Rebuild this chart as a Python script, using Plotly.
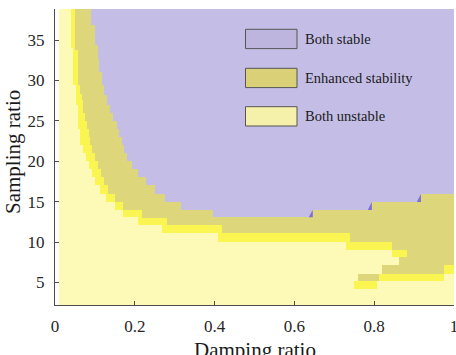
import numpy as np
import plotly.graph_objects as go

# ---------------- data ----------------
x_data_range = [0.01, 1.0]      # damping ratio covered by the map
y_data_range = [2.2, 38.85]     # sampling ratio covered by the map

# lower edge of "Both stable" (stable above), piecewise constant from each x start
stable_x = [0.090, 0.100, 0.107, 0.111, 0.117, 0.124, 0.130, 0.138, 0.146, 0.155,
            0.160, 0.167, 0.172, 0.180, 0.192, 0.209, 0.228, 0.250, 0.276, 0.317,
            0.397, 0.646, 0.794, 0.917]
stable_y = [36.9, 34.4, 32.7, 31.1, 29.4, 28.2, 27.0, 26.0, 25.0, 24.0,
            23.0, 22.0, 21.0, 20.0, 19.0, 18.0, 17.0, 16.0, 15.0, 14.0,
            13.05, 13.95, 14.94, 15.93]

# lower edge of "Enhanced stability"
enh_x = [0.050, 0.058, 0.063, 0.067, 0.069, 0.075, 0.080, 0.084, 0.088, 0.093,
         0.100, 0.107, 0.114, 0.122, 0.132, 0.150, 0.171, 0.217, 0.280, 0.418,
         0.739, 0.845, 0.882, 0.974]
enh_y = [33.8, 29.5, 28.3, 27.6, 26.0, 25.0, 24.0, 23.0, 22.0, 21.0,
         20.0, 19.0, 18.0, 17.0, 16.0, 15.0, 14.0, 12.95, 12.1, 11.07,
         10.03, 9.0, 6.1, 7.14]

# lower edge of the bright transition band (between enhanced and unstable)
band_x = [0.040, 0.046, 0.052, 0.058, 0.063, 0.070, 0.077, 0.084, 0.092, 0.100,
          0.113, 0.128, 0.150, 0.171, 0.209, 0.267, 0.409, 0.729, 0.845, 0.882,
          0.974]
band_y = [34.0, 29.5, 27.0, 24.0, 22.0, 21.0, 20.0, 19.0, 18.0, 17.0,
          16.0, 15.0, 14.0, 13.05, 12.1, 11.07, 10.03, 9.0, 8.1, 5.2,
          6.1]

# isolated patches in the lower right: class, x0, x1, y0, y1
# classes: 0 both unstable, 1 band, 2 enhanced, 3 both stable
patch_cls = [2, 2, 1, 2, 1]
patch_x0 = [0.820, 0.862, 0.811, 0.760, 0.749]
patch_x1 = [0.882, 0.882, 0.882, 0.811, 0.806]
patch_y0 = [6.1, 7.14, 5.2, 5.2, 4.13]
patch_y1 = [7.14, 8.1, 6.1, 6.1, 5.2]

legend_labels = ["Both stable", "Enhanced stability", "Both unstable"]
x_ticks = [0, 0.2, 0.4, 0.6, 0.8, 1]
x_ticktext = ["0", "0.2", "0.4", "0.6", "0.8", "1"]
y_ticks = [5, 10, 15, 20, 25, 30, 35]

# ---------------- styling ----------------
C_PALE = "#fdf9b6"
C_BAND = "#fbf552"
C_ENH = "#ddd67b"
C_STAB = "#c4bee6"
C_TRI = "#7c6fd0"
FONT = "Liberation Serif"
W, H = 456, 355
ML, MR, MT, MB = 55, 2, 9, 50


def step(xs, ys, x, default=1e9):
    v = default
    for xi, yi in zip(xs, ys):
        if x >= xi:
            v = yi
    return v


# cell edges
xe = sorted(set([x_data_range[0], x_data_range[1]] + stable_x + enh_x + band_x
                + patch_x0 + patch_x1))
ye = sorted(set([y_data_range[0], y_data_range[1]] + stable_y + enh_y + band_y
                + patch_y0 + patch_y1))
xe = [v for v in xe if x_data_range[0] <= v <= x_data_range[1]]
ye = [v for v in ye if y_data_range[0] <= v <= y_data_range[1]]

z = []
for j in range(len(ye) - 1):
    yc = 0.5 * (ye[j] + ye[j + 1])
    row = []
    for i in range(len(xe) - 1):
        xc = 0.5 * (xe[i] + xe[i + 1])
        if yc >= step(stable_x, stable_y, xc):
            c = 3
        elif yc >= step(enh_x, enh_y, xc):
            c = 2
        elif yc >= step(band_x, band_y, xc):
            c = 1
        else:
            c = 0
        for k in range(len(patch_cls)):
            if patch_x0[k] <= xc < patch_x1[k] and patch_y0[k] <= yc < patch_y1[k]:
                c = patch_cls[k]
        row.append(c)
    z.append(row)

cs = [[0, C_PALE], [1 / 6, C_PALE], [1 / 6, C_BAND], [0.5, C_BAND],
      [0.5, C_ENH], [5 / 6, C_ENH], [5 / 6, C_STAB], [1, C_STAB]]

fig = go.Figure()
fig.add_trace(go.Heatmap(x=xe, y=ye, z=z, zmin=0, zmax=3, colorscale=cs,
                         showscale=False, hoverinfo="skip", zsmooth=False))

# small contour artefacts at the upward steps of the stable edge
for i in range(1, len(stable_x)):
    if stable_y[i] > stable_y[i - 1]:
        xs_, ylo, yhi = stable_x[i], stable_y[i - 1], stable_y[i]
        fig.add_trace(go.Scatter(x=[xs_ - 0.01, xs_, xs_, xs_ - 0.01],
                                 y=[ylo, ylo, yhi, ylo], fill="toself",
                                 fillcolor=C_TRI, line=dict(width=0),
                                 mode="lines", hoverinfo="skip", showlegend=False))

pw, ph = W - ML - MR, H - MT - MB


def px2x(px):
    return (px - ML) / pw


def py2y(py):
    return (H - MB - py) / ph


shapes = []
annotations = []
leg_fill = ["#bdb5de", "#dad077", "#f5f1aa"]
box_top = [29.3, 68.3, 106.7]
for k, lab in enumerate(legend_labels):
    t = box_top[k]
    shapes.append(dict(type="rect", xref="paper", yref="paper",
                       x0=px2x(245.5), x1=px2x(297), y0=py2y(t + 19.3), y1=py2y(t),
                       fillcolor=leg_fill[k], line=dict(color="#555555", width=1),
                       layer="above"))
    annotations.append(dict(text=lab, xref="paper", yref="paper",
                            x=px2x(303), y=py2y(t + 9.7), xanchor="left",
                            yanchor="middle", showarrow=False,
                            font=dict(family=FONT, size=14.5, color="#1a1a1a")))

annotations.append(dict(text="Damping ratio", xref="paper", yref="paper",
                        x=0.5, y=py2y(336), xanchor="center", yanchor="top",
                        showarrow=False, font=dict(family=FONT, size=21, color="#1a1a1a")))
annotations.append(dict(text="Sampling ratio", xref="paper", yref="paper",
                        x=px2x(13), y=py2y(152), xanchor="center", yanchor="middle",
                        textangle=-90, showarrow=False,
                        font=dict(family=FONT, size=21, color="#1a1a1a")))

axis_common = dict(showgrid=False, zeroline=False, showline=True, linecolor="#4d4d4d",
                   linewidth=1, ticks="inside", ticklen=4, tickcolor="#4d4d4d",
                   ticklabeloverflow="allow", automargin=False,
                   tickfont=dict(family=FONT, size=17, color="#262626"))

fig.update_layout(
    width=W, height=H, margin=dict(l=ML, r=MR, t=MT, b=MB, autoexpand=False),
    paper_bgcolor="white", plot_bgcolor="white", showlegend=False,
    xaxis=dict(range=[0, 1], tickvals=x_ticks, ticktext=x_ticktext,
               ticklabelstandoff=6, **axis_common),
    yaxis=dict(range=[y_data_range[0], y_data_range[1]], tickvals=y_ticks,
               ticklabelstandoff=6, **axis_common),
    shapes=shapes, annotations=annotations,
)

fig.write_html("out.html")
